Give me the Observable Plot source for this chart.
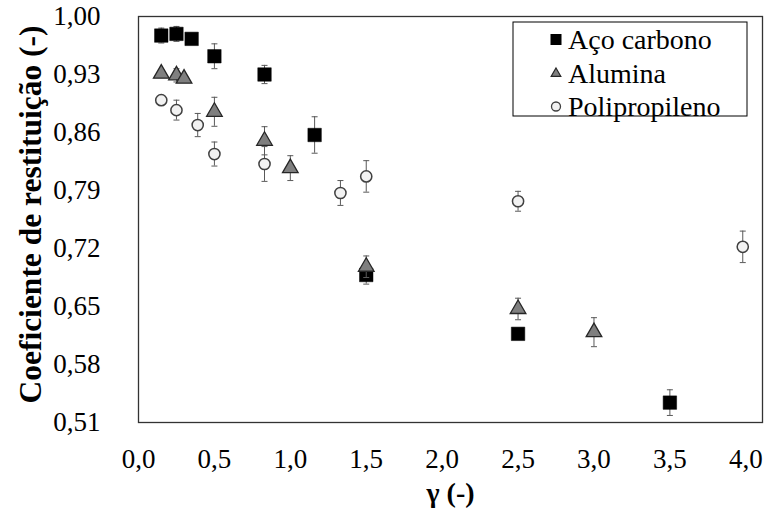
<!DOCTYPE html>
<html>
<head>
<meta charset="utf-8">
<script src="https://cdn.jsdelivr.net/npm/d3@7"></script>
<script src="https://cdn.jsdelivr.net/npm/@observablehq/plot@0.6"></script>
<style>
  html, body { margin: 0; padding: 0; background: #fff; }
  #chart { width: 768px; height: 515px; }
  #chart svg, #chart svg text { font-family: "Liberation Serif", "Times New Roman", Times, "DejaVu Serif", serif !important; }
</style>
</head>
<body>
<div id="chart"></div>
<script>
// ---- data ----
const seriesNames = ["Aço carbono", "Alumina", "Polipropileno"];

const acoX   = [0.15, 0.25, 0.35, 0.50, 0.83, 1.16, 1.50, 2.50, 3.50];
const acoY   = [0.977, 0.979, 0.973, 0.952, 0.930, 0.857, 0.688, 0.617, 0.534];
const acoErr = [0.009, 0.009, 0.003, 0.015, 0.011, 0.022, 0.011, 0.004, 0.0155];

const aluX   = [0.15, 0.25, 0.30, 0.50, 0.83, 1.00, 1.50, 2.50, 3.00];
const aluY   = [0.931, 0.929, 0.925, 0.885, 0.850, 0.817, 0.698, 0.647, 0.619];
const aluErr = [0.004, 0.008, 0.004, 0.0175, 0.017, 0.015, 0.013, 0.013, 0.0175];

const ppX    = [0.15, 0.25, 0.39, 0.50, 0.83, 1.33, 1.50, 2.50, 3.98];
const ppY    = [0.899, 0.887, 0.869, 0.834, 0.822, 0.787, 0.807, 0.777, 0.722];
const ppErr  = [0.004, 0.012, 0.014, 0.0145, 0.021, 0.015, 0.019, 0.012, 0.019];

const xTicks = [0, 0.5, 1, 1.5, 2, 2.5, 3, 3.5, 4];
const yTicks = [0.51, 0.58, 0.65, 0.72, 0.79, 0.86, 0.93, 1.00];
const xTitle = "γ (-)";
const yTitle = "Coeficiente de restituição (-)";

// ---- build tables ----
const toRows = (xs, ys, es) => xs.map((x, i) => ({x, y: ys[i], e: es[i]}));
const aco = toRows(acoX, acoY, acoErr);
const alu = toRows(aluX, aluY, aluErr);
const pp  = toRows(ppX, ppY, ppErr);

const fmtX = d => d.toFixed(1).replace(".", ",");
const fmtY = d => d.toFixed(2).replace(".", ",");

const capSymbol = {
  draw(context, size) {
    const w = Math.sqrt(size / Math.PI);
    context.moveTo(-w, 0);
    context.lineTo(w, 0);
  }
};

const errColor = "#595959";
function errorMarks(rows) {
  return [
    Plot.ruleX(rows, {x: "x", y1: d => d.y - d.e, y2: d => d.y + d.e, stroke: errColor, strokeWidth: 1}),
    Plot.dot(rows, {x: "x", y: d => d.y - d.e, symbol: capSymbol, r: 3, stroke: errColor, strokeWidth: 1, fill: "none"}),
    Plot.dot(rows, {x: "x", y: d => d.y + d.e, symbol: capSymbol, r: 3, stroke: errColor, strokeWidth: 1, fill: "none"})
  ];
}

const chart = Plot.plot({
  width: 768,
  height: 515,
  marginLeft: 138,
  marginTop: 16,
  marginRight: 6,
  marginBottom: 93,
  style: {fontSize: "27px", color: "#000", background: "#fff"},
  x: {domain: [0, 4.11], label: null},
  y: {domain: [0.51, 1.0], label: null},
  marks: [
    Plot.axisX({ticks: xTicks, tickFormat: fmtX, tickSize: 0, tickPadding: 26, label: null}),
    Plot.axisY({ticks: yTicks, tickFormat: fmtY, tickSize: 0, tickPadding: 38, label: null}),
    ...errorMarks(aco),
    Plot.dot(aco, {x: "x", y: "y", symbol: "square", r: 7.6, fill: "#000", stroke: "#000", strokeWidth: 0.5}),
    ...errorMarks(alu),
    Plot.dot(alu, {x: "x", y: "y", symbol: "triangle", r: 5.8, fill: "#7f7f7f", stroke: "#262626", strokeWidth: 1.3}),
    ...errorMarks(pp),
    Plot.dot(pp, {x: "x", y: "y", symbol: "circle", r: 5.6, fill: "#f2f2f2", stroke: "#404040", strokeWidth: 1.5}),
    Plot.frame({stroke: "#333", strokeWidth: 1.3}),
    Plot.text([yTitle], {text: d => d, frameAnchor: "left", dx: -108, dy: -5, rotate: -90,
      fontWeight: "bold", fontSize: 31.5, textAnchor: "middle", lineAnchor: "middle"}),
    Plot.text([xTitle], {text: d => d, frameAnchor: "bottom", dy: 71,
      fontWeight: "bold", fontSize: 28, lineAnchor: "middle"})
  ]
});

// ---- legend (inside the plot area, top right) ----
const svg = d3.select(chart);
const lg = svg.append("g").attr("font-size", 28).attr("text-anchor", "start");
lg.append("rect").attr("x", 513).attr("y", 22).attr("width", 234).attr("height", 94)
  .attr("fill", "#fff").attr("stroke", "#000").attr("stroke-width", 1);
const rowsY = [39.5, 73.5, 106.5];
const symX = 556;
// square
lg.append("rect").attr("x", symX - 5.5).attr("y", rowsY[0] - 5.5).attr("width", 11).attr("height", 11).attr("fill", "#000");
// triangle
const tri = d3.symbol(d3.symbolTriangle, 40)();
lg.append("path").attr("d", tri).attr("transform", `translate(${symX},${rowsY[1]})`)
  .attr("fill", "#7f7f7f").attr("stroke", "#262626").attr("stroke-width", 1.2);
// circle
lg.append("circle").attr("cx", symX).attr("cy", rowsY[2]).attr("r", 4.5)
  .attr("fill", "#f2f2f2").attr("stroke", "#404040").attr("stroke-width", 1.3);
seriesNames.forEach((name, i) => {
  lg.append("text").attr("x", 568).attr("y", rowsY[i]).attr("dy", "0.35em")
    .attr("text-anchor", "start").attr("fill", "#000").text(name);
});

document.getElementById("chart").appendChild(chart);
</script>
</body>
</html>
